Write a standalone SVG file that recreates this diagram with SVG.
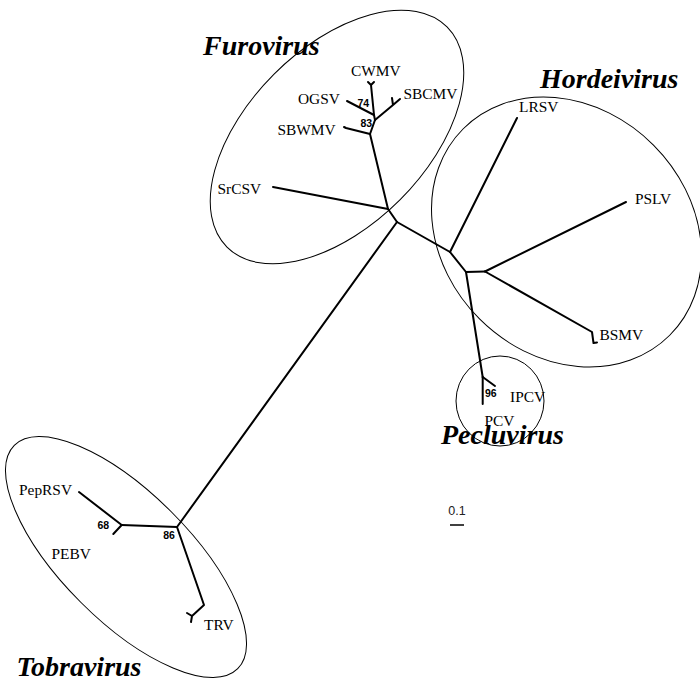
<svg xmlns="http://www.w3.org/2000/svg" width="700" height="681" viewBox="0 0 700 681">
<style>
.br{stroke:#000;stroke-width:2;fill:none;stroke-linecap:round;stroke-linejoin:round}
.cl{stroke:#000;stroke-width:1;fill:none}
.lb{font-family:"Liberation Serif","Times New Roman",serif;font-size:15.4px;fill:#000}
.bs{font-family:"Liberation Sans",Arial,sans-serif;font-size:10.5px;font-weight:bold;fill:#000}
.gn{font-family:"Liberation Serif","Times New Roman",serif;font-size:28px;font-weight:bold;font-style:italic;fill:#000}
.sc{font-family:"Liberation Sans",Arial,sans-serif;font-size:12.5px;fill:#222}
</style>
<rect width="700" height="681" fill="#fff"/>
<g id="clusters">
<ellipse id="furovirus-ring" class="cl" cx="337" cy="137" rx="155.6" ry="89" transform="rotate(-45 337 137)"/>
<ellipse id="hordeivirus-ring" class="cl" cx="566.5" cy="232" rx="146" ry="123" transform="rotate(45 566.5 232)"/>
<ellipse id="pecluvirus-ring" class="cl" cx="500" cy="401" rx="44" ry="45"/>
<ellipse id="tobravirus-ring" class="cl" cx="126" cy="557" rx="158" ry="64" transform="rotate(45 126 557)"/>
</g>
<g id="connectors">
<path class="br" d="M374,115 L371,85 M371,85 L368,82 M371,85 L374,82"/>
<path class="br" d="M374,115 L347,101"/>
<path class="br" d="M374,115 L375,120"/>
<path class="br" d="M375,120 L393,105 L400,99 M393,105 L392,98"/>
<path class="br" d="M375,120 L370,134"/>
<path class="br" d="M370,134 L346,128 L344,127"/>
<path class="br" d="M370,134 L388,209"/>
<path class="br" d="M388,209 L273,187"/>
<path class="br" d="M388,209 L397,222"/>
<path class="br" d="M397,222 L177,527"/>
<path class="br" d="M397,222 L450,252"/>
<path class="br" d="M450,252 L517,118"/>
<path class="br" d="M450,252 L466,272"/>
<path class="br" d="M466,272 L485,271.5"/>
<path class="br" d="M485,271.5 L626,202"/>
<path class="br" d="M485,271.5 L592,332 L593.5,343 L597,342.5"/>
<path class="br" d="M466,272 L482.7,377"/>
<path class="br" d="M482.7,377 L495,386"/>
<path class="br" d="M482.7,377 L482.7,404"/>
<path class="br" d="M177,527 L121.7,525"/>
<path class="br" d="M121.7,525 L79,492"/>
<path class="br" d="M121.7,525 L113.3,534"/>
<path class="br" d="M177,527 L204,605 L192,616 M192,616 L187,613 M192,616 L191,622"/>
</g>
<g id="node-CWMV"><text class="lb" x="351" y="76">CWMV</text></g>
<g id="node-OGSV"><text class="lb" x="298" y="103.5">OGSV</text></g>
<g id="node-SBCMV"><text class="lb" x="403.5" y="98.5">SBCMV</text></g>
<g id="node-SBWMV"><text class="lb" x="277.5" y="135">SBWMV</text></g>
<g id="node-SrCSV"><text class="lb" x="217.5" y="194">SrCSV</text></g>
<g id="node-LRSV"><text class="lb" x="519" y="112">LRSV</text></g>
<g id="node-PSLV"><text class="lb" x="635" y="204">PSLV</text></g>
<g id="node-BSMV"><text class="lb" x="599.5" y="339.5">BSMV</text></g>
<g id="node-IPCV"><text class="lb" x="510" y="401.5">IPCV</text></g>
<g id="node-PCV"><text class="lb" x="484.5" y="425.5">PCV</text></g>
<g id="node-PEPRSV"><text class="lb" x="19" y="494.5">PepRSV</text></g>
<g id="node-PEBV"><text class="lb" x="51.5" y="559">PEBV</text></g>
<g id="node-TRV"><text class="lb" x="204" y="630">TRV</text></g>
<g id="bootstrap">
<text class="bs" x="357.5" y="106.7">74</text>
<text class="bs" x="360.5" y="126.7">83</text>
<text class="bs" x="485" y="396.7">96</text>
<text class="bs" x="97.5" y="529">68</text>
<text class="bs" x="163.2" y="539">86</text>
</g>
<g id="genus-labels">
<text class="gn" x="203" y="54.5">Furovirus</text>
<text class="gn" x="540" y="88.3">Hordeivirus</text>
<text class="gn" x="441" y="444">Pecluvirus</text>
<text class="gn" x="16.5" y="675.5">Tobravirus</text>
</g>
<g id="scale-bar">
<text class="sc" x="448.3" y="515">0.1</text>
<line x1="450" y1="525" x2="464" y2="525" stroke="#000" stroke-width="1.5"/>
</g>
</svg>
